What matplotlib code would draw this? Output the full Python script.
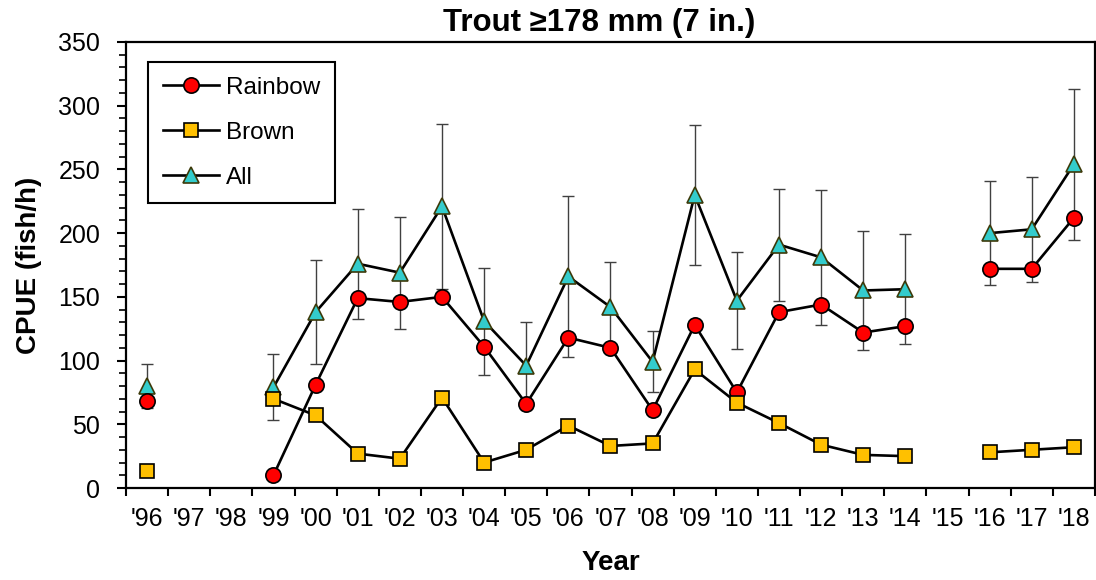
import matplotlib
matplotlib.use("Agg")
import matplotlib.pyplot as plt
import numpy as np

nan = np.nan

years = ["'96", "'97", "'98", "'99", "'00", "'01", "'02", "'03", "'04", "'05", "'06", "'07",
         "'08", "'09", "'10", "'11", "'12", "'13", "'14", "'15", "'16", "'17", "'18"]
rainbow = [68, nan, nan, 10, 81, 149, 146, 150, 111, 66, 118, 110,
           61, 128, 75, 138, 144, 122, 127, nan, 172, 172, 212]
brown = [13, nan, nan, 70, 57, 27, 23, 71, 20, 30, 49, 33,
         35, 93, 67, 51, 34, 26, 25, nan, 28, 30, 32]
all_trout = [80, nan, nan, 79, 138, 176, 169, 221, 131, 96, 166, 142,
             99, 230, 147, 191, 181, 155, 156, nan, 200, 203, 254]
all_err = [17, nan, nan, 26, 41, 43, 44, 65, 42, 34, 63, 35,
           24, 55, 38, 44, 53, 47, 43, nan, 41, 41, 59]

plt.rcParams['font.family'] = ['Liberation Sans', 'DejaVu Sans']

fig = plt.figure(figsize=(10.96, 5.8), dpi=100)
ax = fig.add_axes([0.115, 0.1586, 0.884, 0.769])

x = np.arange(len(years))

ax.errorbar(x, all_trout, yerr=all_err, fmt='none', ecolor='#404040',
            elinewidth=1.0, capsize=4.5, capthick=1.0, zorder=1)
ax.plot(x, all_trout, color='black', lw=1.9, marker='^', ms=11.5,
        mfc='#33CCCC', mec='#3d3a0a', mew=1.2, label='All', zorder=2)
ax.plot(x, rainbow, color='black', lw=1.9, marker='o', ms=11,
        mfc='#FF0000', mec='black', mew=1.2, label='Rainbow', zorder=3)
ax.plot(x, brown, color='black', lw=1.9, marker='s', ms=10.5,
        mfc='#FFC000', mec='black', mew=1.2, label='Brown', zorder=4)

ax.set_xlim(-0.5, len(years) - 0.5)
ax.set_ylim(0, 350)
ax.set_yticks(np.arange(0, 351, 50))
ax.set_yticks(np.arange(0, 351, 10), minor=True)

ax.set_xticks(np.arange(-0.5, len(years), 1))
ax.set_xticklabels([])
ax.set_xticks(x, minor=True)
ax.set_xticklabels(years, minor=True)

ax.tick_params(axis='x', which='major', direction='out', length=6, width=1.5)
ax.tick_params(axis='x', which='minor', length=0, pad=14, labelsize=18)
ax.tick_params(axis='y', which='major', direction='out', length=6.5, width=1.5,
               pad=12, labelsize=18)
ax.tick_params(axis='y', which='minor', direction='out', length=5, width=1.2)

for s in ax.spines.values():
    s.set_linewidth(1.6)

ax.set_title("Trout \u2265178 mm (7 in.)", fontsize=22.5, fontweight='bold', pad=8, x=0.488)
ax.set_ylabel("CPUE (fish/h)", fontsize=20, fontweight='bold', labelpad=12)
ax.set_xlabel("Year", fontsize=20, fontweight='bold', labelpad=13)

handles, labels = ax.get_legend_handles_labels()
order = [1, 2, 0]
leg = ax.legend([handles[i] for i in order], [labels[i] for i in order],
                loc='upper left', bbox_to_anchor=(0.0227, 0.955), borderaxespad=0,
                fontsize=17.5, fancybox=False, edgecolor='black', framealpha=1,
                borderpad=0.6, labelspacing=0.95, handlelength=2.3, handletextpad=0.3)
leg.get_frame().set_linewidth(1.5)

fig.savefig("out.png", dpi=100)
